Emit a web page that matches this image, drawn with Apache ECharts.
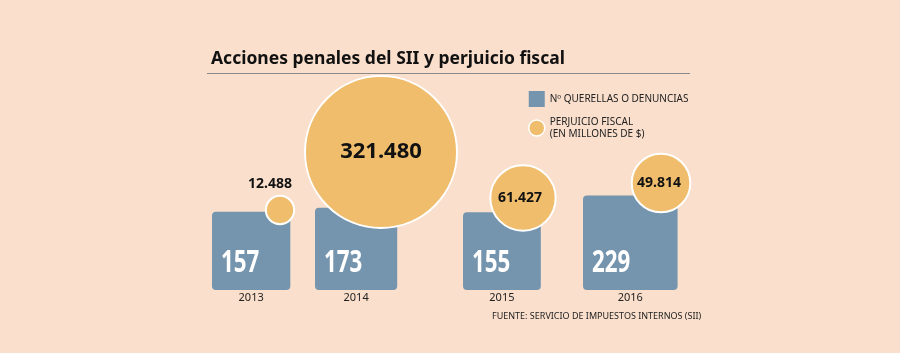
<!DOCTYPE html>
<html>
<head>
<meta charset="utf-8">
<script src="https://cdn.jsdelivr.net/npm/echarts@6/dist/echarts.min.js"></script>
<style>
  html, body { margin: 0; padding: 0; background: #f9dfcc; }
  #main { width: 900px; height: 353px; }
</style>
</head>
<body>
<div id="main"></div>
<script>
// datos
const years = ['2013', '2014', '2015', '2016'];
const querellas = [157, 173, 155, 229];
const perjuicio = [12488, 321480, 61427, 49814];
const perjuicioLabels = ['12.488', '321.480', '61.427', '49.814'];

// colocacion (pixeles del lienzo, ejes 0..900 x 0..353)
const squareLeft = [212, 315, 463, 583];
const baseY = 290;
const circleX = [280, 381, 523, 661];
const circleY = [210, 152, 198, 183];
const labelShift = [[-10, -26], [0, 0], [-3, 0], [-2, 0]];

const BLUE = '#7595ae';
const ORANGE = '#f0bd6c';
const FONT = 'Noto Sans';

const sideK = 6.25;            // lado = k * sqrt(n)
const rMax = 77;               // radio del circulo mayor
const maxP = Math.max(...perjuicio);

const chart = echarts.init(document.getElementById('main'));

chart.setOption({
  animation: false,
  backgroundColor: '#f9dfcc',
  title: [
    {
      text: 'Acciones penales del SII y perjuicio fiscal',
      left: 211, top: 50, padding: 0,
      textStyle: { fontFamily: FONT, fontSize: 17.5, fontWeight: 'bold', color: '#111' }
    },
    {
      text: 'FUENTE: SERVICIO DE IMPUESTOS INTERNOS (SII)',
      left: 492, top: 312, padding: 0,
      textStyle: { fontFamily: FONT, fontSize: 9, fontWeight: 'normal', color: '#222' }
    }
  ],
  legend: {
    orient: 'vertical',
    left: 528, top: 91, padding: 0,
    itemWidth: 16, itemHeight: 16,
    itemGap: 9,
    selectedMode: false,
    textStyle: { fontFamily: FONT, fontSize: 10, color: '#222', lineHeight: 12 },
    data: [
      { name: 'Nº QUERELLAS O DENUNCIAS', icon: 'rect' },
      { name: 'PERJUICIO FISCAL\n(EN MILLONES DE $)', icon: 'circle',
        itemStyle: { borderColor: '#fff', borderWidth: 1.5 } }
    ]
  },
  graphic: [
    { type: 'line', shape: { x1: 207, y1: 73.5, x2: 690, y2: 73.5 },
      style: { stroke: '#8a8a8a', lineWidth: 1 } }
  ],
  grid: { left: 0, right: 0, top: 0, bottom: 0 },
  xAxis: { type: 'value', min: 0, max: 900, show: false },
  yAxis: { type: 'value', min: 0, max: 353, inverse: true, show: false },
  series: [
    {
      name: 'Nº QUERELLAS O DENUNCIAS',
      type: 'custom',
      itemStyle: { color: BLUE },
      data: querellas.map((v, i) => [squareLeft[i], baseY, v]),
      renderItem(params, api) {
        const i = params.dataIndex;
        const v = api.value(2);
        const p = api.coord([api.value(0), api.value(1)]);
        const side = api.size([sideK * Math.sqrt(v), 0])[0];
        return {
          type: 'group',
          children: [
            { type: 'rect',
              shape: { x: p[0], y: p[1] - side, width: side, height: side, r: 4 },
              style: { fill: BLUE } },
            { type: 'text', x: p[0] + 9, y: p[1] - 11, scaleX: 0.72,
              style: { text: String(v), fontFamily: FONT, fontSize: 31, fontWeight: 'bold',
                fill: '#fff', align: 'left', verticalAlign: 'bottom' } },
            { type: 'text', x: p[0] + side / 2, y: p[1] + 8,
              style: { text: years[i], fontFamily: FONT, fontSize: 11,
                fill: '#222', align: 'center', verticalAlign: 'middle' } }
          ]
        };
      }
    },
    {
      name: 'PERJUICIO FISCAL\n(EN MILLONES DE $)',
      type: 'custom',
      itemStyle: { color: ORANGE },
      data: perjuicio.map((v, i) => [circleX[i], circleY[i], v]),
      renderItem(params, api) {
        const i = params.dataIndex;
        const v = api.value(2);
        const p = api.coord([api.value(0), api.value(1)]);
        const r = api.size([rMax * Math.sqrt(v / maxP), 0])[0];
        const big = v === maxP;
        return {
          type: 'group',
          children: [
            { type: 'circle', shape: { cx: p[0], cy: p[1], r: r - 1 },
              style: { fill: ORANGE, stroke: '#fff', lineWidth: 2 } },
            { type: 'text', x: p[0] + labelShift[i][0], y: p[1] + labelShift[i][1],
              style: { text: perjuicioLabels[i], fontFamily: FONT,
                fontSize: big ? 22 : 14, fontWeight: 'bold',
                fill: '#111', align: 'center', verticalAlign: 'middle' } }
          ]
        };
      }
    }
  ]
});
</script>
</body>
</html>
